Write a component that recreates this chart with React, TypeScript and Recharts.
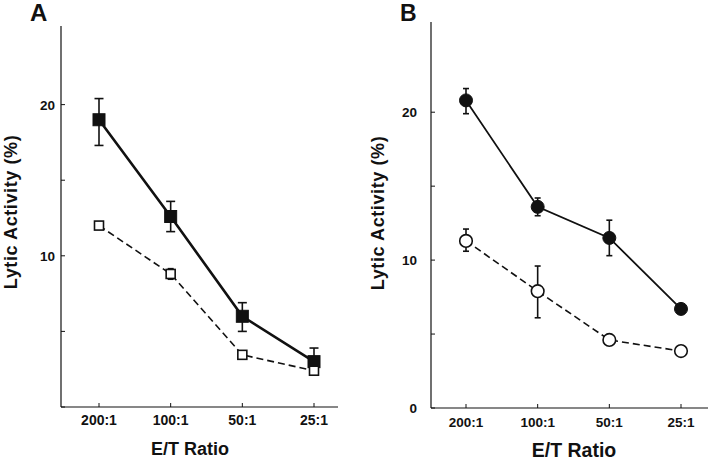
import { LineChart, Line, XAxis, YAxis, ErrorBar } from "recharts";

const categories = ["200:1", "100:1", "50:1", "25:1"];
const yTicks = [0, 5, 10, 15, 20];

// Panel A: squares
const aFilled = [19.0, 12.6, 6.0, 3.0];
const aFilledErr = [[1.7, 1.4], [1.0, 1.0], [1.0, 0.9], [0.6, 0.9]];
const aOpen = [12.0, 8.8, 3.45, 2.4];
const aOpenErr = [[0, 0], [0.35, 0.35], [0, 0], [0, 0]];

// Panel B: circles
const bFilled = [20.8, 13.6, 11.5, 6.7];
const bFilledErr = [[0.9, 0.8], [0.6, 0.6], [1.2, 1.2], [0, 0]];
const bOpen = [11.3, 7.9, 4.6, 3.85];
const bOpenErr = [[0.7, 0.8], [1.8, 1.7], [0, 0], [0, 0]];

const FONT = "'Liberation Sans', Arial, Helvetica, sans-serif";
const INK = "#111";

const rows = (filled: number[], fErr: number[][], open: number[], oErr: number[][]) =>
  categories.map((c, i) => ({ ratio: c, filled: filled[i], fErr: fErr[i], open: open[i], oErr: oErr[i] }));

const dataA = rows(aFilled, aFilledErr, aOpen, aOpenErr);
const dataB = rows(bFilled, bFilledErr, bOpen, bOpenErr);

function square(size: number, fill: string, sw: number) {
  return (p: any) => (
    <rect key={p.key ?? p.index} x={p.cx - size / 2} y={p.cy - size / 2} width={size} height={size}
      fill={fill} stroke={INK} strokeWidth={sw} />
  );
}

function circle(r: number, fill: string, sw: number) {
  return (p: any) => <circle key={p.key ?? p.index} cx={p.cx} cy={p.cy} r={r} fill={fill} stroke={INK} strokeWidth={sw} />;
}

interface PanelProps {
  data: typeof dataA;
  yMax: number;
  yLabels: number[];
  yAxisWidth: number;
  yLabelDx: number;
  margin: { top: number; right: number; bottom: number; left: number };
  padding: { left: number; right: number };
  shape: "square" | "circle";
  solidWidth: number;
  xLabelDy: number;
  fontSize: number;
  capA: number;
}

function Panel(p: PanelProps) {
  const isSq = p.shape === "square";
  return (
    <LineChart width={360} height={462} data={p.data} margin={p.margin}>
      <XAxis
        dataKey="ratio"
        height={30}
        padding={p.padding}
        axisLine={{ stroke: INK, strokeWidth: 1.2 }}
        tickLine={false}
        tickSize={0}
        tickMargin={0}
        interval={0}
        tick={(t: any) => (
          <g>
            <line x1={t.x} y1={t.y} x2={t.x} y2={t.y - 4} stroke={INK} strokeWidth={1} />
            <text x={t.x} y={t.y + p.xLabelDy} textAnchor="middle" fontFamily={FONT} fontWeight="bold" fontSize={p.fontSize} fill={INK}>
              {t.payload.value}
            </text>
          </g>
        )}
      />
      <YAxis
        type="number"
        domain={[0, p.yMax]}
        allowDataOverflow
        ticks={yTicks}
        width={p.yAxisWidth}
        axisLine={{ stroke: INK, strokeWidth: 1.2 }}
        tickLine={false}
        tickSize={0}
        tickMargin={0}
        tick={(t: any) => (
          <g>
            <line x1={t.x} y1={t.y} x2={t.x + 4} y2={t.y} stroke={INK} strokeWidth={1} />
            {p.yLabels.includes(t.payload.value) && (
              <text x={t.x + p.yLabelDx} y={t.y} dy={5} textAnchor="end" fontFamily={FONT} fontWeight="bold" fontSize={13.5} fill={INK}>
                {t.payload.value}
              </text>
            )}
          </g>
        )}
      />
      <Line
        dataKey="filled"
        stroke={INK}
        strokeWidth={p.solidWidth}
        isAnimationActive={false}
        dot={isSq ? square(12, INK, 1) : circle(6.5, INK, 1)}
      >
        <ErrorBar dataKey="fErr" direction="y" width={p.capA} stroke={INK} strokeWidth={1.6} isAnimationActive={false} />
      </Line>
      <Line
        dataKey="open"
        stroke={INK}
        strokeWidth={1.6}
        strokeDasharray="7 4"
        isAnimationActive={false}
        dot={isSq ? square(9, "#fff", 1.6) : circle(6.3, "#fff", 1.6)}
      >
        <ErrorBar dataKey="oErr" direction="y" width={3} stroke={INK} strokeWidth={1.6} isAnimationActive={false} />
      </Line>
    </LineChart>
  );
}

export default function App() {
  return (
    <div style={{ position: "absolute", left: 0, top: 0, width: 720, height: 462, background: "#fff" }}>
      <div style={{ position: "absolute", left: 0, top: 0 }}>
        <Panel
          data={dataA}
          yMax={25.2}
          yLabels={[10, 20]}
          yAxisWidth={61}
          yLabelDx={-6}
          margin={{ top: 26, right: 22, bottom: 25, left: 0 }}
          padding={{ left: 38, right: 24 }}
          shape="square"
          solidWidth={2.6}
          xLabelDy={18}
          fontSize={14}
          capA={4.5}
        />
      </div>
      <div style={{ position: "absolute", left: 360, top: 0 }}>
        <Panel
          data={dataB}
          yMax={26.1}
          yLabels={[0, 10, 20]}
          yAxisWidth={71}
          yLabelDx={-14}
          margin={{ top: 22, right: 12, bottom: 24, left: 0 }}
          padding={{ left: 35, right: 27 }}
          shape="circle"
          solidWidth={1.8}
          xLabelDy={19}
          fontSize={13.5}
          capA={3}
        />
      </div>
      <svg width={720} height={462} style={{ position: "absolute", left: 0, top: 0, pointerEvents: "none" }}>
        <g fontFamily={FONT} fontWeight="bold" fill={INK}>
          <text x={30} y={21} fontSize={24}>A</text>
          <text x={400} y={21} fontSize={23}>B</text>
          <text transform="translate(17,212) rotate(-90)" textAnchor="middle" fontSize={18} letterSpacing={0.6}>
            Lytic Activity (%)
          </text>
          <text transform="translate(384,213) rotate(-90)" textAnchor="middle" fontSize={18} letterSpacing={0.6}>
            Lytic Activity (%)
          </text>
          <text x={190} y={455} textAnchor="middle" fontSize={18}>E/T Ratio</text>
          <text x={574} y={457} textAnchor="middle" fontSize={19.5}>E/T Ratio</text>
        </g>
      </svg>
    </div>
  );
}
